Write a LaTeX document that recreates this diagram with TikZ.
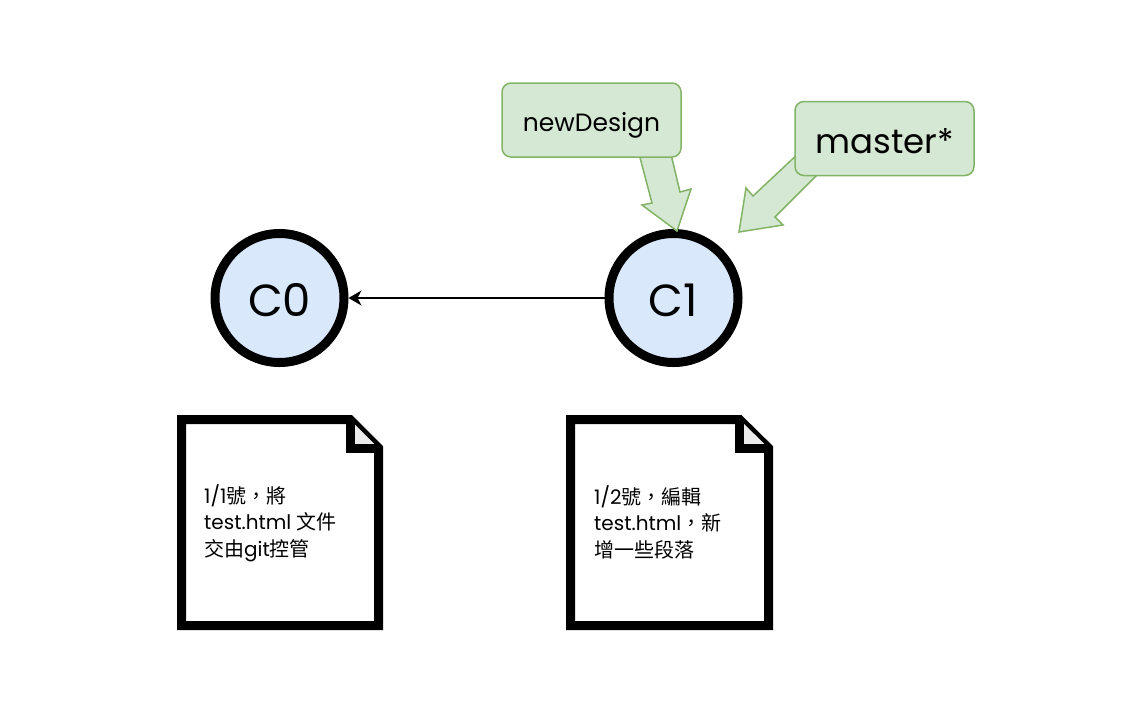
\documentclass[tikz,border=0pt]{standalone}
\usepackage{fontspec}
\setmainfont{Poppins}
\newfontfamily\cjk{Noto Sans CJK TC}
\usetikzlibrary{arrows.meta}
\definecolor{cfill}{HTML}{DAE8FC}
\definecolor{gfill}{HTML}{D5E8D4}
\definecolor{gline}{HTML}{82B366}
\definecolor{foldc}{HTML}{EBEBEB}
\newcommand{\dropby}[2]{\raisebox{-#1}[\height][\depth]{#2}}
\begin{document}
\begin{tikzpicture}[x=1pt,y=-1pt,
 commit/.style={circle, draw=black, line width=9pt, fill=cfill, minimum size=129pt, inner sep=0pt, font=\fontsize{45}{52}\selectfont},
 labelbox/.style={draw=gline, fill=gfill, line width=1.5pt, rounded corners=9pt, minimum width=179pt, minimum height=74pt, inner sep=0pt},
 blockarrow/.style={draw=gline, fill=gfill, line width=1.5pt, line join=miter},
 notepage/.style={draw=black, line width=9pt, fill=white, line join=miter},
 notefold/.style={fill=foldc},
 notetext/.style={align=left, anchor=west, inner sep=0pt, font=\fontsize{20}{26.5}\selectfont}
]
\useasboundingbox (0,0) rectangle (1144,721);

% commits
\node[commit] (c0) at (279.5,298) {\dropby{2pt}{C0}};
\node[commit] (c1) at (673.5,298) {\dropby{2pt}{C1}};
\draw[line width=1.5pt, -{Stealth[length=13pt, width=15pt, inset=4pt]}] (c1) -- (c0);

% block arrows (pointers)
\draw[blockarrow] (638,150) -- (652,203) -- (642,205) -- (677,231) -- (691,189) -- (680,192) -- (670,150) -- cycle;
\draw[blockarrow] (801,151) -- (753,196) -- (746,188) -- (739,232) -- (783,225) -- (775,217) -- (821,171) -- cycle;

% branch labels
\node[labelbox, font=\fontsize{25}{29}\selectfont] (nd) at (591.5,120) {\dropby{5pt}{newDesign}};
\node[labelbox, font=\fontsize{34}{39}\selectfont] (ms) at (884.5,138.5) {\dropby{3pt}{master*}};

% notes
\draw[notepage] (181.5,419.5) -- (350,419.5) -- (378.5,448) -- (378.5,625.5) -- (181.5,625.5) -- cycle;
\fill[notefold] (350,419.5) -- (350,448) -- (378.5,448) -- cycle;
\draw[line width=9pt, line join=miter] (350,419.5) -- (350,448) -- (378.5,448);

\draw[notepage] (570.5,419.5) -- (739.5,419.5) -- (768.5,448) -- (768.5,625.5) -- (570.5,625.5) -- cycle;
\fill[notefold] (739.5,419.5) -- (739.5,448) -- (768.5,448) -- cycle;
\draw[line width=9pt, line join=miter] (739.5,419.5) -- (739.5,448) -- (768.5,448);

\node[notetext] (t0) at (204,523) {1/1{\cjk 號，將}\\test.html {\cjk 文件}\\{\cjk 交由}git{\cjk 控管}};
\node[notetext] (t1) at (594,522) {1/2{\cjk 號，編輯}\\test.html{\cjk ，新}\\{\cjk 增一些段落}};
\end{tikzpicture}
\end{document}
